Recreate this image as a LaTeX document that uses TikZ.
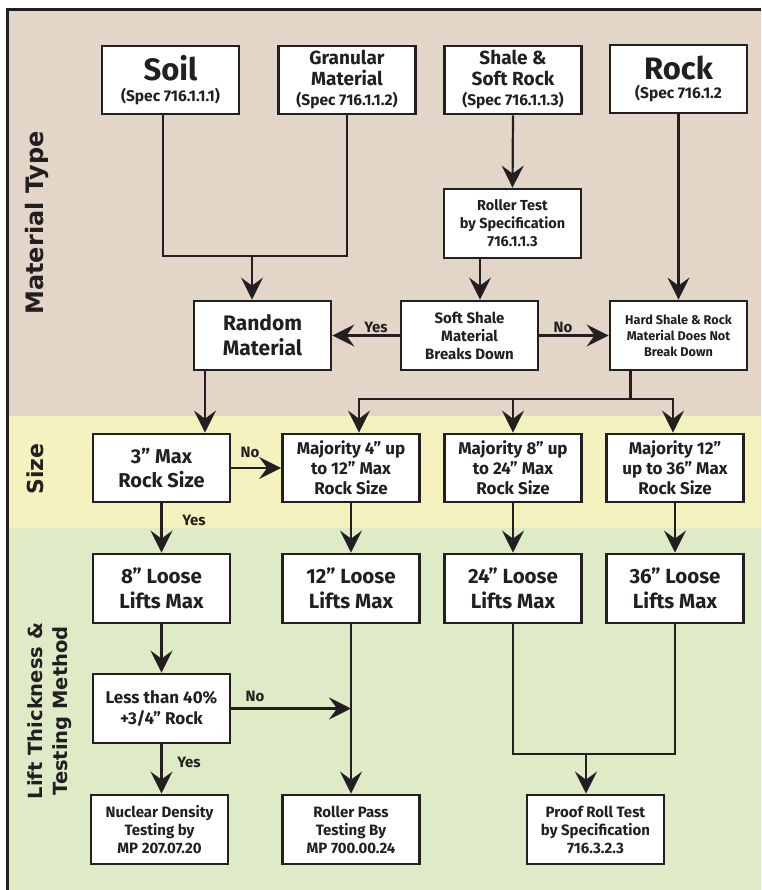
\documentclass[tikz,border=0pt]{standalone}
\usepackage{fontspec}
\setmainfont{Fira Sans}
\newfontfamily\lblfont{DejaVu Sans}
\usetikzlibrary{arrows.meta}
\definecolor{ink}{HTML}{231F20}
\definecolor{bgbrown}{HTML}{E3D6C9}
\definecolor{bgyellow}{HTML}{F4F3C0}
\definecolor{bggreen}{HTML}{DEEBC6}
\newcommand\fsz[2]{\fontsize{#1}{#2}\selectfont}
\begin{document}
\begin{tikzpicture}[x=1pt,y=-1pt,
  box/.style={draw=ink, line width=2.8pt, fill=white, minimum width=137pt, minimum height=68pt,
    align=center, inner sep=1pt, text=ink},
  ln/.style={draw=ink, line width=2.2pt},
  arr/.style={draw=ink, line width=2.2pt, -{Stealth[length=22pt,width=22pt,inset=8pt]}},
  yn/.style={text=ink, font=\bfseries\fsz{15}{18}, inner sep=0pt},
  lbl/.style={text=ink, rotate=90, anchor=base, inner sep=0pt}]
\useasboundingbox (0,0) rectangle (761,890);
% bands
\fill[bgbrown] (7.5,9.5) rectangle (761,416);
\fill[bgyellow] (7.5,416) rectangle (761,528);
\fill[bggreen] (7.5,528) rectangle (761,890);
\draw[ink, line width=3pt] (7.5,890) -- (7.5,9.5) -- (761,9.5);
% side labels
\node[lbl, font=\lblfont\bfseries\fsz{24}{26}] (lmat) at (43,223) {Material Type};
\node[lbl, font=\lblfont\bfseries\fsz{22}{26}] (lsize) at (43,469) {Size};
\node[lbl, font=\lblfont\bfseries\fsz{19.5}{24}] (llift) at (42,711) {Lift Thickness \&};
\node[lbl, font=\lblfont\bfseries\fsz{19.5}{24}] (ltest) at (67,711) {Testing Method};
% row 1
\node[box, font=\bfseries\fsz{31}{21}] (soil) at (170.5,80) {Soil\\{\fsz{15.5}{21}(Spec 716.1.1.1)}};
\node[box, font=\bfseries\fsz{19}{20.5}] (gran) at (347,80) {Granular\\Material\\{\fsz{15.5}{20}(Spec 716.1.1.2)}};
\node[box, font=\bfseries\fsz{19}{20.5}] (shale) at (513,80) {Shale \&\\Soft Rock\\{\fsz{15.5}{20}(Spec 716.1.1.3)}};
\node[box, font=\bfseries\fsz{31}{19}] (rock) at (678.5,79) {Rock\\{\fsz{15.5}{19}(Spec 716.1.2}};
% row 2
\node[box, minimum height=69pt, font=\bfseries\fsz{14.5}{18}] (roller) at (512.5,223.5) {Roller Test\\by Specification\\716.1.1.3};
% row 3
\node[box, minimum height=69pt, font=\bfseries\fsz{21}{25}] (random) at (262.5,335.5) {Random\\Material};
\node[box, minimum height=69pt, font=\bfseries\fsz{15}{18}] (soft) at (469.5,335.5) {Soft Shale\\Material\\Breaks Down};
\node[box, minimum height=69pt, font=\bfseries\fsz{12.7}{16}] (hard) at (678.5,335.5) {Hard Shale \& Rock\\Material Does Not\\Break Down};
% size row
\node[box, font=\bfseries\fsz{20}{24}] (s3) at (161.5,468) {3” Max\\Rock Size};
\node[box, font=\bfseries\fsz{17}{20}] (m4) at (351,468) {Majority 4” up\\to 12” Max\\Rock Size};
\node[box, font=\bfseries\fsz{17}{20}] (m8) at (513,468) {Majority 8” up\\to 24” Max\\Rock Size};
\node[box, font=\bfseries\fsz{17}{20}] (m12) at (675,468) {Majority 12”\\up to 36” Max\\Rock Size};
% lift row
\node[box, minimum height=69pt, font=\bfseries\fsz{20.5}{25}] (l8) at (161.5,588.5) {8” Loose\\Lifts Max};
\node[box, minimum height=69pt, font=\bfseries\fsz{20.5}{25}] (l12) at (351,588.5) {12” Loose\\Lifts Max};
\node[box, minimum height=69pt, font=\bfseries\fsz{20.5}{25}] (l24) at (513,588.5) {24” Loose\\Lifts Max};
\node[box, minimum height=69pt, font=\bfseries\fsz{20.5}{25}] (l36) at (675,588.5) {36” Loose\\Lifts Max};
% less than
\node[box, minimum height=69pt, font=\bfseries\fsz{17}{21}] (less) at (161.5,708.5) {Less than 40\%\\+3/4” Rock};
% bottom row
\node[box, minimum height=69pt, font=\bfseries\fsz{15}{18}] (nuc) at (159.5,829.5) {Nuclear Density\\Testing by\\MP 207.07.20};
\node[box, minimum height=69pt, font=\bfseries\fsz{15}{18}] (rpass) at (351,829.5) {Roller Pass\\Testing By\\MP 700.00.24};
\node[box, minimum height=69pt, font=\bfseries\fsz{15}{18}] (proof) at (595.5,829.5) {Proof Roll Test\\by Specification\\716.3.2.3};
% connectors row1 -> row3
\coordinate (j1) at (252,256);
\draw[ln] ([xshift=-7.5pt]soil.south) |- (j1) -| (gran.south);
\draw[arr] (j1) -- (j1 |- random.north);
\draw[arr] (shale.south) -- (roller.north);
\draw[arr] ([xshift=-32.5pt]roller.south) -- ([xshift=-32.5pt]roller.south |- soft.north);
\draw[arr] (rock.south) -- (hard.north);
\draw[arr] (soft.west) -- (random.east);
\draw[arr] (soft.east) -- (hard.west);
\node[yn] (yes1) at (376,327) {Yes};
\node[yn] (no1) at (563,327) {No};
% fan to size row
\coordinate (f1) at (359,399);
\coordinate (f3) at (673,399);
\draw[arr] ([xshift=-48pt]hard.south) |- (f1) -- (f1 |- m4.north);
\draw[arr] ([xshift=-48pt]hard.south) |- (f3) -- (f3 |- m12.north);
\draw[arr] (m8.north |- f1) -- (m8.north);
\draw[arr] ([xshift=-57.5pt]random.south) -- ([xshift=-57.5pt]random.south |- s3.north);
% size -> lift
\draw[arr] (s3.east) -- (m4.west);
\node[yn] (no2) at (250,452) {No};
\draw[arr] (s3.south) -- (l8.north);
\node[yn] (yes2) at (194,520) {Yes};
\draw[arr] (m4.south) -- (l12.north);
\draw[arr] (m8.south) -- (l24.north);
\draw[arr] (m12.south) -- (l36.north);
% lift -> tests
\draw[arr] (l8.south) -- (less.north);
\draw[arr] (less.south) -- (less.south |- nuc.north);
\node[yn] (yes3) at (189,762) {Yes};
\draw[arr] (l12.south) -- (rpass.north);
\draw[arr] (less.east) -- (less.east -| l12.south);
\node[yn] (no3) at (255,696) {No};
\coordinate (j3) at (586,754);
\draw[ln] (l24.south) |- (j3) -| (l36.south);
\draw[arr] (j3) -- (j3 |- proof.north);
\end{tikzpicture}
\end{document}
